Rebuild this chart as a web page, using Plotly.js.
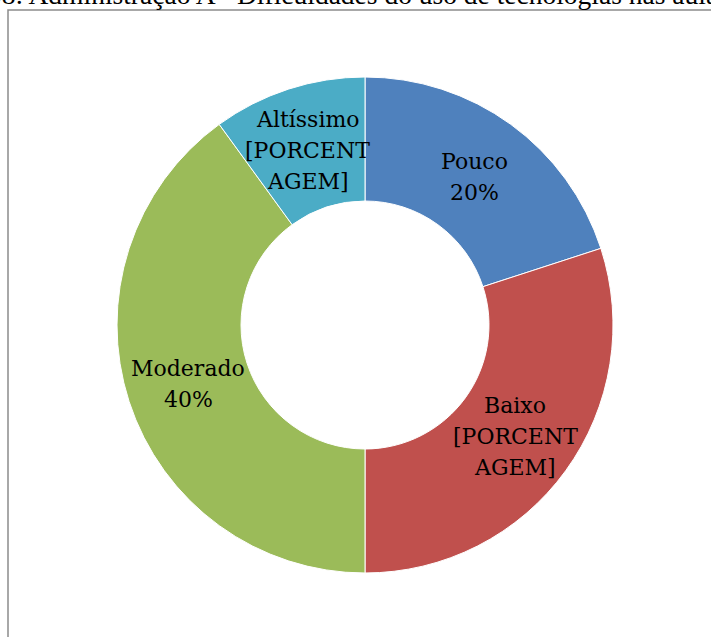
<!DOCTYPE html>
<html>
<head>
<meta charset="utf-8">
<script src="https://cdn.plot.ly/plotly-3.0.1.min.js"></script>
<style>html,body{margin:0;padding:0;background:#fff;}#chart{width:711px;height:637px;}</style>
</head>
<body>
<div id="chart"></div>
<script>
const categories = ["Pouco", "Baixo", "Moderado", "Altíssimo"];
const values = [20, 30, 40, 10];
const labelLines = [["Pouco", "20%"], ["Baixo", "[PORCENT", "AGEM]"], ["Moderado", "40%"], ["Altíssimo", "[PORCENT", "AGEM]"]];
const colors = ["#4F81BD", "#C0504D", "#9BBB59", "#4BACC6"];
const titleText = "08: Administração A - Dificuldades do uso de tecnologias nas aulas";

const W = 711, H = 637;
const cx = 365, cy = 325, R = 248, HOLE = 0.5;
const LABEL_FONT = {family: "DejaVu Serif, serif", size: 22, color: "#000000"};
const LINE_GAP = 31;

const trace = {
  type: "pie",
  labels: categories,
  values: values,
  textinfo: "none",
  hole: HOLE,
  sort: false,
  direction: "clockwise",
  rotation: 0,
  marker: {colors: colors, line: {color: "#ffffff", width: 1}},
  domain: {x: [(cx - R) / W, (cx + R) / W], y: [(H - cy - R) / H, (H - cy + R) / H]},
  showlegend: false,
  hoverinfo: "label+percent"
};

// data labels placed at each slice's bisector, mid-ring (derived from values)
const total = values.reduce((a, b) => a + b, 0);
const annotations = [];
let cum = 0;
values.forEach((v, i) => {
  const theta = 2 * Math.PI * (cum + v / 2) / total;
  cum += v;
  const r = R * (1 + HOLE) / 2;
  const px = cx + r * Math.sin(theta);
  const py = cy - r * Math.cos(theta) + 2;
  const lines = labelLines[i];
  lines.forEach((ln, j) => {
    annotations.push({
      text: ln, xref: "paper", yref: "paper",
      x: px / W, y: (H - py) / H, xanchor: "center", yanchor: "middle",
      yshift: -(j - (lines.length - 1) / 2) * LINE_GAP,
      showarrow: false, font: LABEL_FONT
    });
  });
});

annotations.push({
  text: titleText, xref: "paper", yref: "paper",
  x: -14 / W, xanchor: "left", y: 1 + 5.5 / H, yanchor: "middle",
  showarrow: false,
  font: {family: "Liberation Serif, serif", size: 27.5, color: "#000000"}
});

const layout = {
  width: W, height: H,
  margin: {l: 0, r: 0, t: 0, b: 0},
  paper_bgcolor: "#ffffff",
  shapes: [{
    type: "rect", xref: "paper", yref: "paper",
    x0: 8 / W, x1: 1.2, y0: -0.2, y1: 1 - 10 / H,
    line: {color: "#8c8c8c", width: 1.5}
  }],
  annotations: annotations
};

Plotly.newPlot("chart", [trace], layout, {displayModeBar: false, staticPlot: true});
</script>
</body>
</html>
